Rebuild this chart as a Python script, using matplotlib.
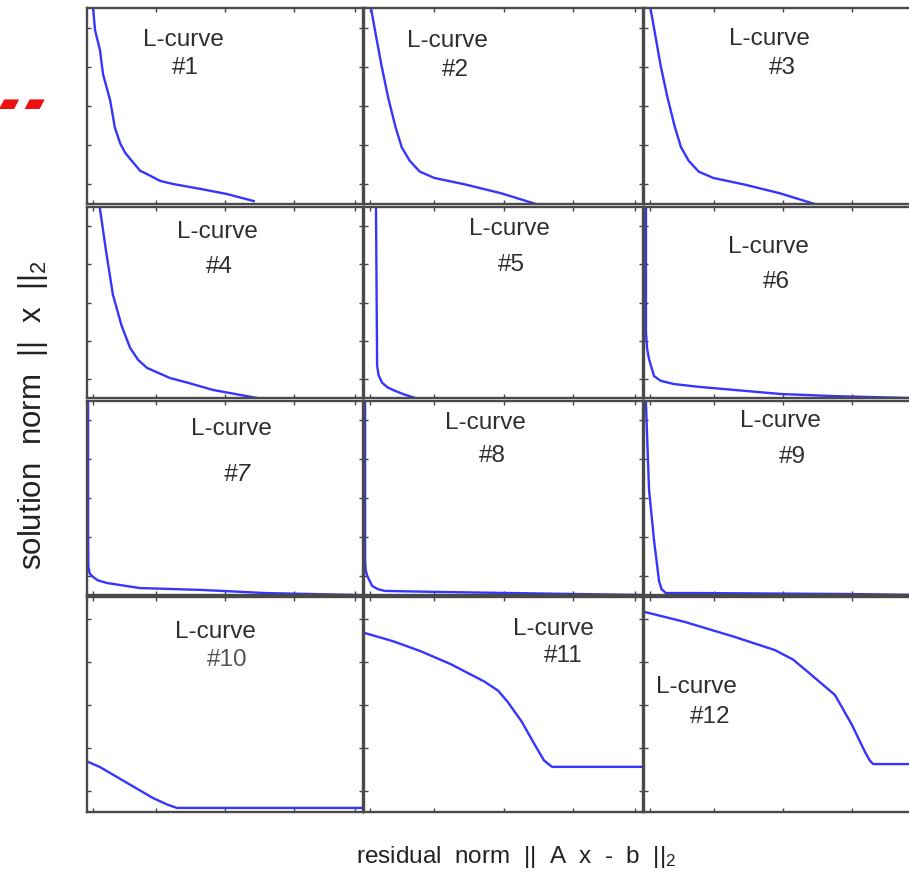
import matplotlib
matplotlib.use('Agg')
import matplotlib.pyplot as plt

plt.rcParams['font.family'] = ['Liberation Sans', 'DejaVu Sans']
plt.rcParams['mathtext.fontset'] = 'custom'
plt.rcParams['mathtext.rm'] = 'Liberation Sans'
plt.rcParams['mathtext.it'] = 'Liberation Sans'

# curve points, x and y as fraction of each panel
x1 = [0.022, 0.029, 0.047, 0.058, 0.084, 0.101, 0.12, 0.138, 0.163, 0.193, 0.217, 0.265, 0.312, 0.411, 0.507, 0.604]
y1 = [1.0, 0.888, 0.785, 0.663, 0.528, 0.39, 0.31, 0.262, 0.219, 0.169, 0.153, 0.118, 0.102, 0.077, 0.051, 0.015]
x2 = [0.025, 0.044, 0.063, 0.087, 0.113, 0.135, 0.164, 0.2, 0.252, 0.365, 0.491, 0.616]
y2 = [1.0, 0.85, 0.705, 0.54, 0.393, 0.29, 0.22, 0.165, 0.133, 0.099, 0.055, 0.0]
x3 = [0.023, 0.042, 0.060, 0.085, 0.111, 0.133, 0.161, 0.197, 0.249, 0.362, 0.488, 0.614]
y3 = [1.0, 0.85, 0.705, 0.54, 0.393, 0.29, 0.220, 0.165, 0.133, 0.099, 0.055, 0.0]
x4 = [0.047, 0.07, 0.094, 0.125, 0.156, 0.185, 0.217, 0.30, 0.37, 0.457, 0.616]
y4 = [0.99, 0.76, 0.54, 0.38, 0.263, 0.2, 0.158, 0.105, 0.078, 0.042, 0.0]
x5 = [0.043, 0.047, 0.052, 0.065, 0.085, 0.112, 0.145, 0.184]
y5 = [0.995, 0.171, 0.12, 0.08, 0.055, 0.037, 0.018, 0.0]
x6 = [0.007, 0.007, 0.011, 0.018, 0.036, 0.06, 0.108, 0.2, 0.287, 0.491, 0.681, 0.953]
y6 = [0.99, 0.346, 0.26, 0.204, 0.115, 0.09, 0.073, 0.058, 0.047, 0.021, 0.010, 0.0]
x7 = [0.004, 0.004, 0.005, 0.01, 0.022, 0.04, 0.072, 0.19, 0.417, 0.647, 0.98]
y7 = [0.995, 0.32, 0.145, 0.11, 0.093, 0.075, 0.062, 0.036, 0.026, 0.01, 0.0]
x8 = [0.004, 0.004, 0.006, 0.011, 0.029, 0.05, 0.075, 0.255, 0.76, 1.0]
y8 = [1.0, 0.18, 0.13, 0.10, 0.047, 0.03, 0.021, 0.016, 0.005, 0.0]
x9 = [0.007, 0.018, 0.036, 0.054, 0.063, 0.079, 0.2, 0.74, 1.0]
y9 = [0.99, 0.545, 0.283, 0.073, 0.03, 0.01, 0.01, 0.005, 0.0]
x10 = [0.004, 0.047, 0.239, 0.29, 0.326, 1.0]
y10 = [0.233, 0.209, 0.065, 0.035, 0.019, 0.019]
x11 = [0.004, 0.105, 0.203, 0.312, 0.431, 0.48, 0.514, 0.565, 0.612, 0.645, 0.674, 1.0]
y11 = [0.832, 0.794, 0.748, 0.687, 0.607, 0.565, 0.514, 0.421, 0.313, 0.24, 0.21, 0.21]
x12 = [0.004, 0.147, 0.327, 0.471, 0.535, 0.59, 0.687, 0.748, 0.795, 0.812, 0.824, 1.0]
y12 = [0.93, 0.884, 0.814, 0.753, 0.71, 0.651, 0.544, 0.405, 0.279, 0.24, 0.223, 0.223]

curves_x = [x1, x2, x3, x4, x5, x6, x7, x8, x9, x10, x11, x12]
curves_y = [y1, y2, y3, y4, y5, y6, y7, y8, y9, y10, y11, y12]
labels = ['#1', '#2', '#3', '#4', '#5', '#6', '#7', '#8', '#9', '#10', '#11', '#12']

# label positions (axes fraction): L-curve and number
lpos = [(0.348, 0.837), (0.30, 0.83), (0.45, 0.84),
        (0.471, 0.869), (0.523, 0.884), (0.448, 0.79),
        (0.522, 0.855), (0.435, 0.885), (0.491, 0.895),
        (0.464, 0.837), (0.678, 0.85), (0.19, 0.581)]
npos = [(0.355, 0.694), (0.326, 0.684), (0.496, 0.696),
        (0.478, 0.686), (0.527, 0.698), (0.477, 0.607),
        (0.543, 0.622), (0.46, 0.717), (0.534, 0.712),
        (0.507, 0.707), (0.714, 0.724), (0.237, 0.442)]

W, H = 909, 877
fig = plt.figure(figsize=(W / 100, H / 100), dpi=100)

cols = [(87, 276), (364, 279), (644, 278)]
rows = [(8, 196), (207, 191), (401, 194), (597, 215)]

for i in range(12):
    r, c = divmod(i, 3)
    x0, w = cols[c]
    y0, h = rows[r]
    ax = fig.add_axes([x0 / W, 1 - (y0 + h) / H, w / W, h / H])
    ax.plot(curves_x[i], curves_y[i], color='#3535ff', lw=1.7)
    ax.set_xlim(0, 1)
    ax.set_ylim(0, 1)
    ax.set_xticks([0.02, 0.25, 0.5, 0.75, 0.97])
    ax.set_yticks([0.1, 0.3, 0.5, 0.7, 0.9])
    ax.tick_params(direction='in', length=3, width=1, color='#444444',
                   top=True, right=True, labelbottom=False, labelleft=False)
    for s in ax.spines.values():
        s.set_color('#4a4a4a')
        s.set_linewidth(1.7)
    style = 'italic' if i == 6 else 'normal'
    ax.text(lpos[i][0], lpos[i][1], 'L-curve', ha='center', va='center',
            fontsize=17.5, color='#2e2e2e')
    ax.text(npos[i][0], npos[i][1], labels[i], ha='center', va='center',
            fontsize=17.5, color='#555555' if i == 9 else '#2e2e2e', style=style)

fig.text(516 / W, 1 - 857 / H, r'residual  norm  ||  A  x  -  b  ||$_2$', ha='center', va='center',
         fontsize=17.5, color='#222222')
fig.text(33 / W, 1 - 415 / H, r'solution  norm  ||  x  ||$_2$', ha='center', va='center',
         fontsize=22.5, color='#222222', rotation=90)
fig.text(22 / W, 1 - 104 / H, '\u25b0\u2009\u25b0', ha='center', va='center',
         fontsize=19, color='#ee1111', family=['DejaVu Sans'])

fig.savefig('out.png', dpi=100)
